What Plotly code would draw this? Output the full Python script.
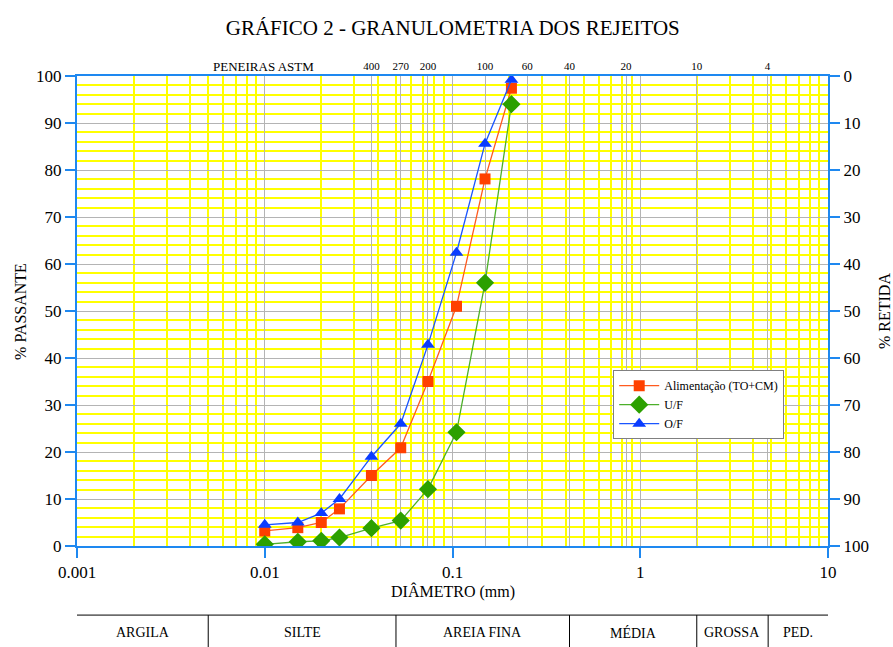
import numpy as np
import plotly.graph_objects as go

# diameters (mm) of the test points
diam = [0.01, 0.015, 0.02, 0.025, 0.037, 0.053, 0.074, 0.105, 0.149, 0.206]

# % passante
alim = [3.2, 3.9, 5.0, 7.9, 15.0, 20.9, 35.0, 51.0, 78.1, 97.4]
uf = [0.35, 0.9, 1.1, 1.8, 3.8, 5.4, 12.1, 24.2, 56.0, 94.0]
of = [4.5, 5.0, 7.0, 10.0, 19.0, 26.0, 42.8, 62.4, 85.6, 99.2]

# peneiras ASTM
mesh_lbl = ['400', '270', '200', '100', '60', '40', '20', '10', '4']
mesh_mm = [0.037, 0.053, 0.074, 0.149, 0.25, 0.42, 0.84, 2.0, 4.76]

# escala granulometrica
classes = ['ARGILA', 'SILTE', 'AREIA FINA', 'MÉDIA', 'GROSSA', 'PED.']
limites = [0.001, 0.005, 0.05, 0.42, 2.0, 4.8, 10]

xticks = [0.001, 0.01, 0.1, 1, 10]
xtick_txt = ['0.001', '0.01', '0.1', '1', '10']
minor_x = [m * 10.0**e for e in range(-3, 1) for m in range(2, 10)]

FONT = 'Liberation Serif'
BLUE = '#1e88f0'
GRAY = '#b4b4b4'
YEL = '#ffff00'
tf = dict(size=17, family=FONT, color='black')

fig = go.Figure()

fig.add_trace(go.Scatter(x=diam, y=alim, name='Alimentação (TO+CM)', mode='lines+markers',
                         line=dict(color='#ff5a1e', width=1.3),
                         marker=dict(symbol='square', size=11, color='#ff4000')))
fig.add_trace(go.Scatter(x=diam, y=uf, name='U/F', mode='lines+markers',
                         line=dict(color='#4caf2a', width=1.3),
                         marker=dict(symbol='diamond', size=14, color='#2ca000')))
fig.add_trace(go.Scatter(x=diam, y=of, name='O/F', mode='lines+markers',
                         line=dict(color='#1a55ff', width=1.3),
                         marker=dict(symbol='triangle-up', size=12, color='#0a3cff')))
# % retida, on the secondary axes (invisible, keeps x2/y2 alive)
fig.add_trace(go.Scatter(x=diam, y=[100 - v for v in alim], xaxis='x2', yaxis='y2',
                         mode='markers', marker=dict(opacity=0), showlegend=False,
                         hoverinfo='skip'))

fig.update_layout(
    width=893, height=647,
    margin=dict(l=77, r=65, t=76, b=101, autoexpand=False),
    paper_bgcolor='white', plot_bgcolor='white',
    font=dict(family=FONT, color='black'),
    title=dict(text='GRÁFICO 2 - GRANULOMETRIA DOS REJEITOS', x=0.507, xanchor='center',
               y=0.957, yanchor='middle', font=dict(size=21, family=FONT)),
    xaxis=dict(type='log', range=[-3, 1], tickmode='array', tickvals=xticks, ticktext=xtick_txt,
               showgrid=True, gridcolor=GRAY, gridwidth=1.2,
               minor=dict(tickmode='array', tickvals=minor_x, showgrid=True,
                          gridcolor=YEL, gridwidth=1.5, ticks=''),
               showline=True, linecolor=BLUE, linewidth=2,
               ticks='outside', ticklen=10, tickcolor=BLUE, tickwidth=1.5,
               tickfont=tf, zeroline=False),
    xaxis2=dict(type='log', range=[-3, 1], overlaying='x', side='top',
                tickmode='array', tickvals=mesh_mm, ticktext=mesh_lbl,
                showgrid=True, gridcolor=GRAY, gridwidth=1.2,
                showline=True, linecolor=BLUE, linewidth=2, ticks='',
                tickfont=dict(size=11, family=FONT, color='black')),
    yaxis=dict(range=[0, 100], dtick=10, showgrid=True, gridcolor=GRAY, gridwidth=1.2,
               minor=dict(dtick=2, showgrid=True, gridcolor=YEL, gridwidth=1.5, ticks=''),
               showline=True, linecolor=BLUE, linewidth=2,
               ticks='outside', ticklen=10, tickcolor=BLUE, tickwidth=1.5,
               tickfont=tf, zeroline=False),
    yaxis2=dict(range=[100, 0], dtick=10, overlaying='y', side='right', showgrid=False,
                showline=True, linecolor=BLUE, linewidth=2,
                ticks='outside', ticklen=10, tickcolor=BLUE, tickwidth=1.5,
                tickfont=tf, zeroline=False),
    legend=dict(x=0.714, y=0.374, xanchor='left', yanchor='top',
                bgcolor='white', bordercolor='#808080', borderwidth=1,
                font=dict(size=12, family=FONT), itemwidth=40, tracegroupgap=2),
    showlegend=True,
)

# axis titles and labels
ann = dict(xref='paper', yref='paper', showarrow=False, xanchor='center', yanchor='middle')
fig.add_annotation(text='DIÂMETRO (mm)', x=0.5, y=-0.096, font=dict(size=16), **ann)
fig.add_annotation(text='% PASSANTE', x=-0.076, y=0.5, textangle=-90, font=dict(size=16), **ann)
fig.add_annotation(text='% RETIDA', x=1.0746, y=0.5, textangle=-90, font=dict(size=16), **ann)
fig.add_annotation(text='PENEIRAS ASTM', x=0.2477, y=1.021, font=dict(size=13), **ann)

# classification strip under the chart
def pfrac(v):
    return (np.log10(v) + 3) / 4

fig.add_shape(type='line', xref='paper', yref='paper', x0=0, x1=1, y0=-0.147, y1=-0.147,
              line=dict(color='black', width=1))
for b in limites[1:-1]:
    fig.add_shape(type='line', xref='paper', yref='paper', x0=pfrac(b), x1=pfrac(b),
                  y0=-0.147, y1=-0.215, line=dict(color='black', width=1))
for i, c in enumerate(classes):
    xc = (pfrac(limites[i]) + pfrac(limites[i + 1])) / 2
    fig.add_annotation(text=c, x=xc, y=-0.185, font=dict(size=14), **ann)

fig.write_html('out.html', config={'displayModeBar': False},
               post_script="document.body.style.margin='0px';")
